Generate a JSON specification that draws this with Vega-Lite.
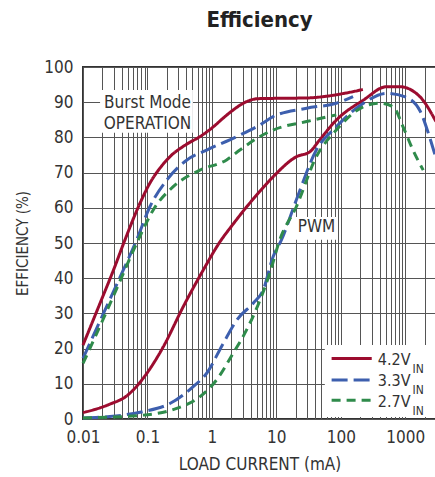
{
  "$schema": "https://vega.github.io/schema/vega-lite/v6.json",
  "width": 353,
  "height": 352,
  "autosize": {"type": "none"},
  "padding": {"left": 83, "top": 67, "right": 0, "bottom": 58},
  "title": {"text": "Efficiency", "fontSize": 22, "fontWeight": "bold", "font": "DejaVu Sans Condensed, sans-serif", "color": "#222", "anchor": "middle", "offset": 26},
  "config": {
    "view": {"stroke": "#333", "strokeWidth": 2},
    "font": "DejaVu Sans Condensed, sans-serif",
    "axis": {"domain": false, "ticks": false, "gridColor": "#555", "gridWidth": 1, "gridOpacity": 1, "labelFontSize": 17, "labelColor": "#333", "titleFontSize": 15, "titleFontWeight": "normal", "titleColor": "#333", "labelFont": "DejaVu Sans Condensed, sans-serif", "titleFont": "DejaVu Sans Condensed, sans-serif"}
  },
  "encoding": {
    "x": {"field": "x", "type": "quantitative", "scale": {"type": "log", "domain": [0.01, 3000], "nice": false},
      "axis": {"title": "LOAD CURRENT (mA)", "titleFontSize": 17, "values": [0.01,0.02,0.03,0.04,0.05,0.06,0.07,0.08,0.09,0.1,0.2,0.3,0.4,0.5,0.6,0.7,0.8,0.9,1,2,3,4,5,6,7,8,9,10,20,30,40,50,60,70,80,90,100,200,300,400,500,600,700,800,900,1000,2000,3000],
        "labelExpr": "datum.value == 0.01 ? '0.01' : datum.value == 0.1 ? '0.1' : datum.value == 1 ? '1' : datum.value == 10 ? '10' : datum.value == 100 ? '100' : datum.value == 1000 ? '1000' : ''",
        "labelOverlap": false, "labelPadding": 10, "titlePadding": 11, "labelFlush": false}},
    "y": {"field": "y", "type": "quantitative", "scale": {"domain": [0, 100], "nice": false},
      "axis": {"title": "EFFICIENCY (%)", "values": [0,10,20,30,40,50,60,70,80,90,100], "labelPadding": 10, "titlePadding": 13}}
  },
  "layer": [
    {
      "data": {"values": [
        {"x": 0.0184, "x2": 0.507, "y": 93.5, "y2": 81.3},
        {"x": 18, "x2": 90, "y": 57.4, "y2": 50.9},
        {"x": 56.5, "x2": 3000, "y": 21, "y2": 0.6}
      ]},
      "mark": {"type": "rect", "fill": "white", "stroke": null},
      "encoding": {"x2": {"field": "x2"}, "y2": {"field": "y2"}}
    },
    {
      "data": {"values": [
        {"series": "4.2V", "curve": "4.2b", "x": 0.01, "y": 21},
        {"series": "4.2V", "curve": "4.2b", "x": 0.0184, "y": 32.9},
        {"series": "4.2V", "curve": "4.2b", "x": 0.03, "y": 42.5},
        {"series": "4.2V", "curve": "4.2b", "x": 0.0448, "y": 50.9},
        {"series": "4.2V", "curve": "4.2b", "x": 0.0766, "y": 61.3},
        {"series": "4.2V", "curve": "4.2b", "x": 0.109, "y": 67},
        {"series": "4.2V", "curve": "4.2b", "x": 0.16, "y": 71.5},
        {"series": "4.2V", "curve": "4.2b", "x": 0.223, "y": 74.5},
        {"series": "4.2V", "curve": "4.2b", "x": 0.4, "y": 78},
        {"series": "4.2V", "curve": "4.2b", "x": 0.65, "y": 80.2},
        {"series": "4.2V", "curve": "4.2b", "x": 1.05, "y": 83},
        {"series": "4.2V", "curve": "4.2b", "x": 1.5, "y": 85.5},
        {"series": "4.2V", "curve": "4.2b", "x": 2.14, "y": 87.8},
        {"series": "4.2V", "curve": "4.2b", "x": 3.3, "y": 90},
        {"series": "4.2V", "curve": "4.2b", "x": 5.2, "y": 91},
        {"series": "4.2V", "curve": "4.2b", "x": 10, "y": 91.1},
        {"series": "4.2V", "curve": "4.2b", "x": 30, "y": 91.2},
        {"series": "4.2V", "curve": "4.2b", "x": 60, "y": 91.7},
        {"series": "4.2V", "curve": "4.2b", "x": 120, "y": 92.6},
        {"series": "4.2V", "curve": "4.2b", "x": 220, "y": 93.6},

        {"series": "3.3V", "curve": "3.3b", "x": 0.01, "y": 17.2},
        {"series": "3.3V", "curve": "3.3b", "x": 0.0184, "y": 27.9},
        {"series": "3.3V", "curve": "3.3b", "x": 0.0349, "y": 39},
        {"series": "3.3V", "curve": "3.3b", "x": 0.068, "y": 50.9},
        {"series": "3.3V", "curve": "3.3b", "x": 0.109, "y": 60.3},
        {"series": "3.3V", "curve": "3.3b", "x": 0.2, "y": 67.9},
        {"series": "3.3V", "curve": "3.3b", "x": 0.41, "y": 73.6},
        {"series": "3.3V", "curve": "3.3b", "x": 0.83, "y": 76.4},
        {"series": "3.3V", "curve": "3.3b", "x": 2.4, "y": 80.2},
        {"series": "3.3V", "curve": "3.3b", "x": 5.5, "y": 83.5},
        {"series": "3.3V", "curve": "3.3b", "x": 8.9, "y": 85.9},
        {"series": "3.3V", "curve": "3.3b", "x": 29.5, "y": 88.3},
        {"series": "3.3V", "curve": "3.3b", "x": 85, "y": 89.7},
        {"series": "3.3V", "curve": "3.3b", "x": 155, "y": 91.6},

        {"series": "2.7V", "curve": "2.7b", "x": 0.01, "y": 15.8},
        {"series": "2.7V", "curve": "2.7b", "x": 0.0184, "y": 26.4},
        {"series": "2.7V", "curve": "2.7b", "x": 0.0349, "y": 37.9},
        {"series": "2.7V", "curve": "2.7b", "x": 0.072, "y": 50.9},
        {"series": "2.7V", "curve": "2.7b", "x": 0.123, "y": 59.4},
        {"series": "2.7V", "curve": "2.7b", "x": 0.251, "y": 66},
        {"series": "2.7V", "curve": "2.7b", "x": 0.65, "y": 70.7},
        {"series": "2.7V", "curve": "2.7b", "x": 1.69, "y": 73.6},
        {"series": "2.7V", "curve": "2.7b", "x": 2.72, "y": 76.4},
        {"series": "2.7V", "curve": "2.7b", "x": 5.5, "y": 80.2},
        {"series": "2.7V", "curve": "2.7b", "x": 8.9, "y": 82.1},
        {"series": "2.7V", "curve": "2.7b", "x": 29.5, "y": 84.5},
        {"series": "2.7V", "curve": "2.7b", "x": 85, "y": 86.4},

        {"series": "4.2V", "curve": "4.2p", "x": 0.01, "y": 1.8},
        {"series": "4.2V", "curve": "4.2p", "x": 0.026, "y": 4.2},
        {"series": "4.2V", "curve": "4.2p", "x": 0.048, "y": 6.6},
        {"series": "4.2V", "curve": "4.2p", "x": 0.098, "y": 13},
        {"series": "4.2V", "curve": "4.2p", "x": 0.176, "y": 20.5},
        {"series": "4.2V", "curve": "4.2p", "x": 0.359, "y": 31.9},
        {"series": "4.2V", "curve": "4.2p", "x": 0.733, "y": 42.3},
        {"series": "4.2V", "curve": "4.2p", "x": 1.33, "y": 50.3},
        {"series": "4.2V", "curve": "4.2p", "x": 2.14, "y": 55.4},
        {"series": "4.2V", "curve": "4.2p", "x": 3.3, "y": 59.8},
        {"series": "4.2V", "curve": "4.2p", "x": 5.5, "y": 64.6},
        {"series": "4.2V", "curve": "4.2p", "x": 8.9, "y": 68.8},
        {"series": "4.2V", "curve": "4.2p", "x": 20.4, "y": 74.5},
        {"series": "4.2V", "curve": "4.2p", "x": 33, "y": 75.9},
        {"series": "4.2V", "curve": "4.2p", "x": 47, "y": 79.3},
        {"series": "4.2V", "curve": "4.2p", "x": 85, "y": 84.9},
        {"series": "4.2V", "curve": "4.2p", "x": 224, "y": 90.6},
        {"series": "4.2V", "curve": "4.2p", "x": 513, "y": 94.4},
        {"series": "4.2V", "curve": "4.2p", "x": 822, "y": 94.4},
        {"series": "4.2V", "curve": "4.2p", "x": 1680, "y": 91.6},
        {"series": "4.2V", "curve": "4.2p", "x": 3000, "y": 84.5},

        {"series": "3.3V", "curve": "3.3p", "x": 0.01, "y": 0.3},
        {"series": "3.3V", "curve": "3.3p", "x": 0.026, "y": 0.7},
        {"series": "3.3V", "curve": "3.3p", "x": 0.086, "y": 2.1},
        {"series": "3.3V", "curve": "3.3p", "x": 0.223, "y": 4.4},
        {"series": "3.3V", "curve": "3.3p", "x": 0.513, "y": 9.2},
        {"series": "3.3V", "curve": "3.3p", "x": 0.83, "y": 13},
        {"series": "3.3V", "curve": "3.3p", "x": 1.5, "y": 21.5},
        {"series": "3.3V", "curve": "3.3p", "x": 2.5, "y": 28.4},
        {"series": "3.3V", "curve": "3.3p", "x": 4.37, "y": 32.9},
        {"series": "3.3V", "curve": "3.3p", "x": 6.24, "y": 36.6},
        {"series": "3.3V", "curve": "3.3p", "x": 8.9, "y": 46.1},
        {"series": "3.3V", "curve": "3.3p", "x": 12, "y": 50.9},
        {"series": "3.3V", "curve": "3.3p", "x": 20.4, "y": 62.2},
        {"series": "3.3V", "curve": "3.3p", "x": 41.7, "y": 76.4},
        {"series": "3.3V", "curve": "3.3p", "x": 85, "y": 83},
        {"series": "3.3V", "curve": "3.3p", "x": 224, "y": 89.7},
        {"series": "3.3V", "curve": "3.3p", "x": 513, "y": 92.5},
        {"series": "3.3V", "curve": "3.3p", "x": 1000, "y": 91.5},
        {"series": "3.3V", "curve": "3.3p", "x": 1700, "y": 87.5},
        {"series": "3.3V", "curve": "3.3p", "x": 2300, "y": 81},
        {"series": "3.3V", "curve": "3.3p", "x": 2900, "y": 75},

        {"series": "2.7V", "curve": "2.7p", "x": 0.01, "y": 0.3},
        {"series": "2.7V", "curve": "2.7p", "x": 0.086, "y": 1.1},
        {"series": "2.7V", "curve": "2.7p", "x": 0.284, "y": 3},
        {"series": "2.7V", "curve": "2.7p", "x": 0.65, "y": 6.3},
        {"series": "2.7V", "curve": "2.7p", "x": 1.18, "y": 11.1},
        {"series": "2.7V", "curve": "2.7p", "x": 2.14, "y": 18.7},
        {"series": "2.7V", "curve": "2.7p", "x": 3.45, "y": 25.3},
        {"series": "2.7V", "curve": "2.7p", "x": 5.5, "y": 33.5},
        {"series": "2.7V", "curve": "2.7p", "x": 7.9, "y": 41.4},
        {"series": "2.7V", "curve": "2.7p", "x": 11.3, "y": 50.9},
        {"series": "2.7V", "curve": "2.7p", "x": 20.4, "y": 60.3},
        {"series": "2.7V", "curve": "2.7p", "x": 41.7, "y": 74.5},
        {"series": "2.7V", "curve": "2.7p", "x": 85, "y": 82.1},
        {"series": "2.7V", "curve": "2.7p", "x": 224, "y": 88.7},
        {"series": "2.7V", "curve": "2.7p", "x": 400, "y": 89.7},
        {"series": "2.7V", "curve": "2.7p", "x": 650, "y": 88.7},
        {"series": "2.7V", "curve": "2.7p", "x": 925, "y": 83},
        {"series": "2.7V", "curve": "2.7p", "x": 1318, "y": 76.4},
        {"series": "2.7V", "curve": "2.7p", "x": 1900, "y": 70.7}
      ]},
      "mark": {"type": "line", "strokeWidth": 3, "interpolate": "monotone"},
      "encoding": {
        "color": {"field": "series", "type": "nominal", "scale": {"domain": ["4.2V", "3.3V", "2.7V"], "range": ["#9c0c2f", "#3d5fae", "#2f8b4b"]}, "legend": null},
        "strokeDash": {"field": "series", "type": "nominal", "scale": {"domain": ["4.2V", "3.3V", "2.7V"], "range": [[1, 0], [16, 6], [9, 6]]}, "legend": null},
        "detail": {"field": "curve"}
      }
    },
    {
      "data": {"values": [
        {"series": "4.2V", "x": 72, "x2": 302, "y": 17.2},
        {"series": "3.3V", "x": 72, "x2": 302, "y": 11.1},
        {"series": "2.7V", "x": 72, "x2": 302, "y": 5.3}
      ]},
      "mark": {"type": "rule", "strokeWidth": 3},
      "encoding": {
        "x2": {"field": "x2"},
        "color": {"field": "series", "type": "nominal", "legend": null},
        "strokeDash": {"field": "series", "type": "nominal", "legend": null}
      }
    },
    {
      "data": {"values": [
        {"x": 375, "y": 16.9, "label": "4.2V"},
        {"x": 375, "y": 10.8, "label": "3.3V"},
        {"x": 375, "y": 4.9, "label": "2.7V"}
      ]},
      "mark": {"type": "text", "align": "left", "baseline": "middle", "fontSize": 16, "color": "#333"},
      "encoding": {"text": {"field": "label"}}
    },
    {
      "data": {"values": [
        {"x": 1300, "y": 14.2, "label": "IN"},
        {"x": 1300, "y": 8.1, "label": "IN"},
        {"x": 1300, "y": 2.2, "label": "IN"}
      ]},
      "mark": {"type": "text", "align": "left", "baseline": "middle", "fontSize": 12, "color": "#333"},
      "encoding": {"text": {"field": "label"}}
    },
    {
      "data": {"values": [
        {"x": 0.1, "y": 89.8, "label": "Burst Mode"},
        {"x": 0.1, "y": 83.8, "label": "OPERATION"},
        {"x": 42, "y": 54.6, "label": "PWM"}
      ]},
      "mark": {"type": "text", "align": "center", "baseline": "middle", "fontSize": 17, "color": "#333"},
      "encoding": {"text": {"field": "label"}}
    }
  ]
}
